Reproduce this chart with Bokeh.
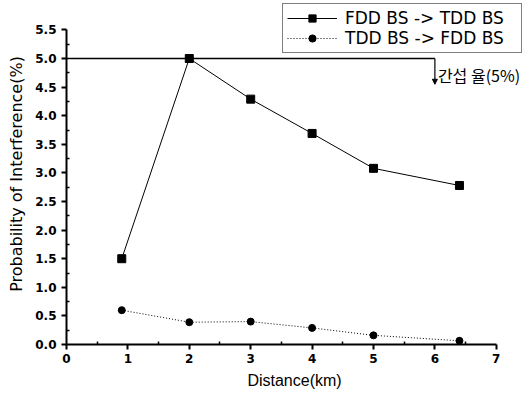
from bokeh.plotting import figure
from bokeh.models import (Range1d, Legend, LegendItem, Arrow, NormalHead, FixedTicker,
                          Label, CustomJSTickFormatter)
from bokeh.embed import file_html
from bokeh.resources import INLINE

# data
dist_fdd = [0.9, 2, 3, 4, 5, 6.4]
fdd_to_tdd = [1.5, 5.0, 4.29, 3.69, 3.08, 2.78]
dist_tdd = [0.9, 2, 3, 4, 5, 6.4]
tdd_to_fdd = [0.6, 0.39, 0.40, 0.29, 0.16, 0.065]
threshold = 5.0
threshold_end = 6.0
threshold_label = "간섭 율(5%)"
x_ticks = [0, 1, 2, 3, 4, 5, 6, 7]
y_ticks = [0.0, 0.5, 1.0, 1.5, 2.0, 2.5, 3.0, 3.5, 4.0, 4.5, 5.0, 5.5]

FONT = "Liberation Sans"
WIDE = "DejaVu Sans"

p = figure(width=522, height=391, output_backend="svg", toolbar_location=None,
           x_range=Range1d(0, 7.427), y_range=Range1d(0, 5.962),
           min_border_left=66, min_border_right=0, min_border_top=3, min_border_bottom=47)
p.outline_line_color = None
p.xgrid.visible = False
p.ygrid.visible = False

# axes
for ax in (p.xaxis[0], p.yaxis[0]):
    ax.axis_line_width = 2
    ax.major_tick_line_width = 2
    ax.minor_tick_line_width = 1.5
    ax.major_tick_out = 5
    ax.major_tick_in = 0
    ax.minor_tick_out = 0
    ax.minor_tick_in = 3
    ax.major_label_text_font = WIDE
    ax.major_label_text_font_style = "bold"
    ax.major_label_text_font_size = "12px"
    ax.major_label_text_color = "black"
    ax.axis_label_text_font_style = "normal"
    ax.axis_label_text_color = "black"

p.xaxis.axis_label_text_font = FONT
p.xaxis.axis_label_text_font_size = "16px"
p.yaxis.axis_label_text_font = WIDE
p.yaxis.axis_label_text_font_size = "16px"

p.xaxis.ticker = FixedTicker(ticks=x_ticks, minor_ticks=[0.5 + i for i in range(7)])
p.yaxis.ticker = FixedTicker(ticks=y_ticks, minor_ticks=[0.25 + 0.5 * i for i in range(11)])
p.xaxis.bounds = (0, 7)
p.yaxis.bounds = (0, 5.5)
p.yaxis.formatter = CustomJSTickFormatter(code="return tick.toFixed(1);")
p.xaxis.axis_label = "Distance(km)"
p.yaxis.axis_label = "Probability of Interference(%)"
p.xaxis.major_label_standoff = 4
p.yaxis.major_label_standoff = 5
p.xaxis.axis_label_standoff = 6
p.yaxis.axis_label_standoff = 6

# threshold line + arrow
p.line([0, threshold_end], [threshold, threshold], line_color="black", line_width=1.5)
p.add_layout(Arrow(end=NormalHead(size=5, fill_color="black", line_color="black"),
                   x_start=threshold_end, y_start=threshold, x_end=threshold_end, y_end=4.55,
                   line_color="black", line_width=1.2))
p.add_layout(Label(x=threshold_end, y=4.71, x_offset=3, text=threshold_label,
                   text_font="Noto Sans CJK KR", text_font_size="16px",
                   text_baseline="middle", text_align="left", text_color="black"))

# series
l1 = p.line(dist_fdd, fdd_to_tdd, line_color="black", line_width=1)
s1 = p.scatter(dist_fdd, fdd_to_tdd, marker="square", size=8, fill_color="black", line_color="black")
l2 = p.line(dist_tdd, tdd_to_fdd, line_color="black", line_width=1, line_dash="1 2")
s2 = p.scatter(dist_tdd, tdd_to_fdd, marker="circle", size=7, fill_color="black", line_color="black")

legend = Legend(items=[LegendItem(label="FDD BS -> TDD BS", renderers=[l1, s1]),
                       LegendItem(label="TDD BS -> FDD BS", renderers=[l2, s2])],
                location="top_right", margin=0, padding=4, spacing=0,
                glyph_width=50, glyph_height=18, label_standoff=8,
                label_width=172, label_height=18,
                label_text_font=WIDE, label_text_font_size="17px",
                label_text_color="black",
                border_line_color="black", border_line_width=1.5,
                background_fill_color="white", background_fill_alpha=1)
p.add_layout(legend)

open("out.html", "w").write(file_html(p, INLINE))
